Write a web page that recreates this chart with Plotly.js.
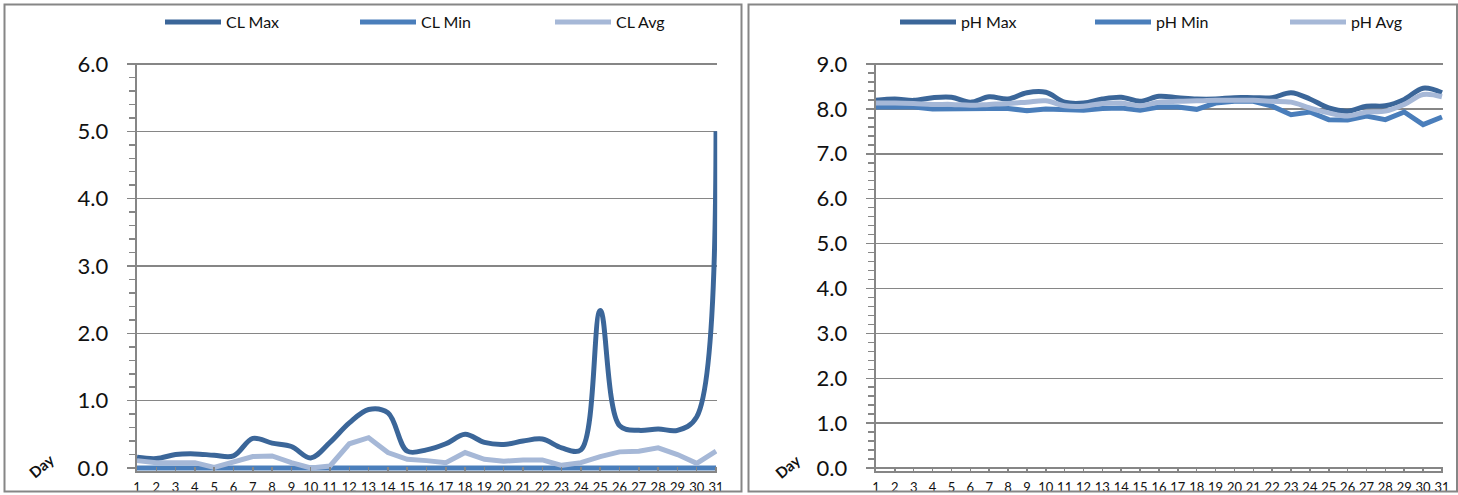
<!DOCTYPE html>
<html>
<head>
<meta charset="utf-8">
<script src="https://cdn.plot.ly/plotly-3.0.1.min.js"></script>
<style>
html,body{margin:0;padding:0;background:#fff;}
#chart{width:1458px;height:495px;}
</style>
</head>
<body>
<div id="chart"></div>
<script>
// ---- data ----
const days = [1,2,3,4,5,6,7,8,9,10,11,12,13,14,15,16,17,18,19,20,21,22,23,24,25,26,27,28,29,30,31];

const clMax = [0.16,0.14,0.20,0.21,0.19,0.18,0.44,0.37,0.32,0.15,0.38,0.67,0.87,0.82,0.25,0.27,0.36,0.50,0.38,0.35,0.40,0.43,0.30,0.27,2.34,0.63,0.56,0.58,0.56,0.76,5.00];
const clMin = [0,0,0,0,0,0,0,0,0,0,0,0,0,0,0,0,0,0,0,0,0,0,0,0,0,0,0,0,0,0,0];
const clAvg = [0.11,0.08,0.08,0.08,0.01,0.09,0.17,0.18,0.08,0.00,0.03,0.36,0.45,0.23,0.13,0.11,0.08,0.23,0.13,0.10,0.12,0.12,0.04,0.08,0.17,0.24,0.25,0.30,0.20,0.07,0.25];

const phMax = [8.19,8.22,8.19,8.25,8.26,8.15,8.27,8.22,8.36,8.37,8.15,8.13,8.22,8.26,8.17,8.28,8.25,8.22,8.22,8.25,8.25,8.25,8.36,8.22,8.02,7.95,8.06,8.07,8.21,8.46,8.36];
const phMin = [8.04,8.04,8.04,8.00,8.01,8.00,8.01,8.01,7.96,8.00,7.99,7.97,8.01,8.02,7.97,8.04,8.04,7.99,8.13,8.17,8.17,8.06,7.87,7.93,7.76,7.75,7.84,7.76,7.93,7.65,7.82];
const phAvg = [8.13,8.13,8.12,8.10,8.10,8.08,8.10,8.12,8.15,8.18,8.07,8.06,8.12,8.13,8.07,8.15,8.17,8.18,8.19,8.19,8.19,8.17,8.15,8.02,7.91,7.84,7.93,7.95,8.10,8.32,8.27];

const clNames = ['CL Max','CL Min','CL Avg'];
const phNames = ['pH Max','pH Min','pH Avg'];
const xTitle = 'Day';

// ---- styles ----
const cMax = '#3B6699', cMin = '#4A7EBB', cAvg = '#A6B8D7';
const gray = '#868686';
const W = 1458, H = 495;
const FONT = 'Lato, "Liberation Sans", sans-serif';

function tr(y, name, color, xa, ya, lg, shape) {
  return {x: days, y: y, name: name, type: 'scatter', mode: 'lines',
    line: {color: color, width: 5, shape: shape, smoothing: 1},
    xaxis: xa, yaxis: ya, legend: lg, hoverinfo: 'skip'};
}

const data = [
  tr(clMax, clNames[0], cMax, 'x', 'y', 'legend', 'spline'),
  tr(clMin, clNames[1], cMin, 'x', 'y', 'legend', 'linear'),
  tr(clAvg, clNames[2], cAvg, 'x', 'y', 'legend', 'linear'),
  tr(phMax, phNames[0], cMax, 'x2', 'y2', 'legend2', 'spline'),
  tr(phMin, phNames[1], cMin, 'x2', 'y2', 'legend2', 'linear'),
  tr(phAvg, phNames[2], cAvg, 'x2', 'y2', 'legend2', 'spline')
];

const yDom = [(H - 471.4) / H, (H - 62.65) / H];

function xAxis(d0, d1, anchor) {
  return {domain: [d0 / W, d1 / W], range: [0.98, 31.06], anchor: anchor,
    tickmode: 'linear', tick0: 1, dtick: 1, showgrid: false, zeroline: false,
    showline: true, linecolor: gray, linewidth: 2,
    ticks: 'inside', ticklen: 4, tickwidth: 1.5, tickcolor: gray,
    tickfont: {family: FONT, size: 13, color: '#111'}, ticklabelstandoff: 3,
    fixedrange: true, automargin: false};
}
function yAxis(range, anchor) {
  return {domain: yDom, range: range, anchor: anchor,
    tickmode: 'linear', tick0: 0, dtick: 1, tickformat: '.1f',
    showgrid: true, gridcolor: gray, gridwidth: 1.5, zeroline: false,
    showline: true, linecolor: gray, linewidth: 2,
    ticks: 'outside', ticklen: 8, tickwidth: 1.5, tickcolor: gray,
    minor: {tick0: 0, dtick: 0.2, ticks: 'outside', ticklen: 6, tickwidth: 1.5, tickcolor: gray, showgrid: false},
    tickfont: {family: FONT, size: 22, color: '#111'}, ticklabelstandoff: 14,
    fixedrange: true, automargin: false};
}
function yOverlay(range, over, anchor) {
  return {overlaying: over, anchor: anchor, side: 'left', range: range,
    tickmode: 'linear', tick0: 0, dtick: 1, showgrid: false, zeroline: false, showline: false,
    ticks: 'inside', ticklen: 8, tickwidth: 1.5, tickcolor: gray, showticklabels: false,
    minor: {tick0: 0, dtick: 0.2, ticks: 'inside', ticklen: 6, tickwidth: 1.5, tickcolor: gray, showgrid: false},
    fixedrange: true, automargin: false};
}

const clRange = [-0.05, 6.02];
const phRange = [-0.075, 9.03];

function legendCfg(x) {
  return {orientation: 'h', x: x, y: (H - 22) / H, xanchor: 'left', yanchor: 'middle',
    font: {family: FONT, size: 16, color: '#111'}, bgcolor: 'rgba(0,0,0,0)',
    itemwidth: 56, entrywidth: 124, entrywidthmode: 'pixels', itemclick: false, itemdoubleclick: false};
}

function dayLabel(px) {
  return {text: '<b>' + xTitle + '</b>', xref: 'paper', yref: 'paper', x: px / W, y: (H - 466) / H,
    xanchor: 'center', yanchor: 'middle', showarrow: false,
    textangle: -40, font: {family: FONT, size: 15, color: '#111'}};
}

const layout = {
  width: W, height: H, margin: {l: 0, r: 0, t: 0, b: 0, pad: 0, autoexpand: false},
  paper_bgcolor: '#fff', plot_bgcolor: 'rgba(0,0,0,0)',
  showlegend: true,
  xaxis: xAxis(136.6, 717.2, 'y'),
  yaxis: yAxis(clRange, 'x'),
  xaxis2: xAxis(875.6, 1443.1, 'y2'),
  yaxis2: yAxis(phRange, 'x2'),
  yaxis3: yOverlay(clRange, 'y', 'x'),
  yaxis4: yOverlay(phRange, 'y2', 'x2'),
  legend: legendCfg(160 / W),
  legend2: legendCfg(895 / W),
  annotations: [dayLabel(41), dayLabel(788)],
  shapes: [
    {type: 'rect', xref: 'paper', yref: 'paper', x0: 4.5 / W, x1: 741.5 / W, y0: (H - 491.5) / H, y1: (H - 4.5) / H,
     line: {color: gray, width: 2}},
    {type: 'rect', xref: 'paper', yref: 'paper', x0: 748.5 / W, x1: 1457 / W, y0: (H - 491.5) / H, y1: (H - 4.5) / H,
     line: {color: gray, width: 2}}
  ]
};

Plotly.newPlot('chart', data, layout, {staticPlot: true, displayModeBar: false});
</script>
</body>
</html>
